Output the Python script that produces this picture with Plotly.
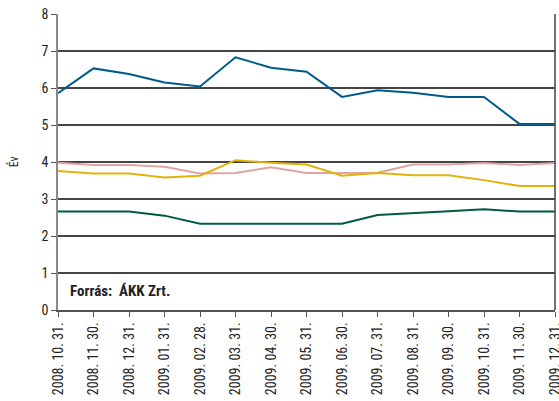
import plotly.graph_objects as go

dates = ["2008. 10. 31.", "2008. 11. 30.", "2008. 12. 31.", "2009. 01. 31.", "2009. 02. 28.",
         "2009. 03. 31.", "2009. 04. 30.", "2009. 05. 31.", "2009. 06. 30.", "2009. 07. 31.",
         "2009. 08. 31.", "2009. 09. 30.", "2009. 10. 31.", "2009. 11. 30.", "2009. 12. 31."]

blue = [5.86, 6.53, 6.38, 6.15, 6.04, 6.83, 6.55, 6.44, 5.76, 5.94, 5.87, 5.76, 5.76, 5.03, 5.03]
pink = [3.98, 3.92, 3.92, 3.87, 3.69, 3.70, 3.86, 3.70, 3.70, 3.71, 3.93, 3.93, 3.97, 3.92, 3.97]
yellow = [3.76, 3.69, 3.69, 3.58, 3.63, 4.05, 3.98, 3.93, 3.63, 3.70, 3.64, 3.64, 3.51, 3.35, 3.35]
green = [2.66, 2.66, 2.66, 2.55, 2.33, 2.33, 2.33, 2.33, 2.33, 2.57, 2.61, 2.67, 2.72, 2.66, 2.66]

series = [("pink", pink, "#e0a3a3"), ("yellow", yellow, "#e3b20b"),
          ("green", green, "#005a45"), ("blue", blue, "#005b8a")]

FONT = "Liberation Sans Narrow, Roboto Condensed, Arial Narrow, Liberation Sans, sans-serif"

fig = go.Figure()
for name, vals, col in series:
    fig.add_trace(go.Scatter(x=list(range(len(dates))), y=vals, mode="lines", name=name,
                             line=dict(color=col, width=2), showlegend=False))

fig.update_layout(
    width=559, height=401,
    margin=dict(l=58, r=4, t=14, b=91),
    paper_bgcolor="white", plot_bgcolor="white",
    font=dict(family=FONT, size=12, color="#222"),
    xaxis=dict(
        range=[0, len(dates) - 1], tickmode="array",
        tickvals=list(range(len(dates))), ticktext=dates,
        tickangle=-90, showgrid=False, zeroline=False,
        ticks="outside", ticklen=5, tickcolor="#555",
        showline=True, linecolor="#555", linewidth=1.5, mirror=False,
        tickfont=dict(family=FONT, size=14, color="#222"),
        automargin=False, ticklabeloverflow="allow",
    ),
    yaxis=dict(
        range=[0, 8], dtick=1, showgrid=True, gridcolor="#444", gridwidth=1.5,
        zeroline=False, ticks="outside", ticklen=5, tickcolor="#555",
        showline=True, linecolor="#888", linewidth=1.5,
        tickfont=dict(family=FONT, size=14, color="#222"),
        automargin=False,
    ),
    shapes=[dict(type="line", xref="paper", yref="paper", x0=1, x1=1, y0=0, y1=1,
                 line=dict(color="#444", width=1.5))],
    annotations=[
        dict(text="<b>Forrás:  ÁKK Zrt.</b>", xref="paper", yref="paper",
             x=0.02, y=0.063, xanchor="left", yanchor="middle", showarrow=False,
             font=dict(family=FONT, size=15, color="#222")),
        dict(text="Év", xref="paper", yref="paper", x=-0.09, y=0.5,
             xanchor="center", yanchor="middle", textangle=-90, showarrow=False,
             font=dict(family=FONT, size=12, color="#222")),
    ],
)

fig.write_html("out.html", config={"displayModeBar": False},
               post_script="document.body.style.margin='0px';")
